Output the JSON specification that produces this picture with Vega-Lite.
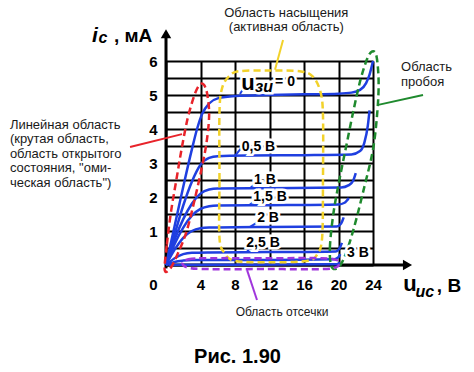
{
  "$schema": "https://vega.github.io/schema/vega-lite/v6.json",
  "width": 207,
  "height": 204,
  "autosize": {"type": "none"},
  "padding": {"left": 166, "top": 61, "right": 101, "bottom": 107},
  "background": "white",
  "config": {"view": {"stroke": null}, "font": "Liberation Sans"},
  "datasets": {
    "curves": [
      {"u": "0", "x": 0, "y": 0}, {"u": "0", "x": 1, "y": 1.15}, {"u": "0", "x": 2, "y": 2.3}, {"u": "0", "x": 3, "y": 3.4}, {"u": "0", "x": 3.6, "y": 4.0}, {"u": "0", "x": 4.2, "y": 4.45}, {"u": "0", "x": 5, "y": 4.75}, {"u": "0", "x": 6, "y": 4.9}, {"u": "0", "x": 8, "y": 4.97}, {"u": "0", "x": 12, "y": 5.0}, {"u": "0", "x": 16, "y": 5.02}, {"u": "0", "x": 20, "y": 5.04}, {"u": "0", "x": 21.5, "y": 5.07}, {"u": "0", "x": 22.5, "y": 5.15}, {"u": "0", "x": 23.2, "y": 5.35}, {"u": "0", "x": 23.6, "y": 5.6}, {"u": "0", "x": 24, "y": 6.0},
      {"u": "0.5", "x": 0, "y": 0}, {"u": "0.5", "x": 1, "y": 0.9}, {"u": "0.5", "x": 2, "y": 1.75}, {"u": "0.5", "x": 3, "y": 2.45}, {"u": "0.5", "x": 4, "y": 2.95}, {"u": "0.5", "x": 5, "y": 3.15}, {"u": "0.5", "x": 6, "y": 3.2}, {"u": "0.5", "x": 10, "y": 3.22}, {"u": "0.5", "x": 16, "y": 3.23}, {"u": "0.5", "x": 21.5, "y": 3.25}, {"u": "0.5", "x": 22.5, "y": 3.35}, {"u": "0.5", "x": 23.0, "y": 3.6}, {"u": "0.5", "x": 23.4, "y": 4.1}, {"u": "0.5", "x": 23.6, "y": 4.55},
      {"u": "1", "x": 0, "y": 0}, {"u": "1", "x": 1, "y": 0.75}, {"u": "1", "x": 2, "y": 1.35}, {"u": "1", "x": 3, "y": 1.8}, {"u": "1", "x": 4, "y": 2.1}, {"u": "1", "x": 5, "y": 2.22}, {"u": "1", "x": 6, "y": 2.25}, {"u": "1", "x": 12, "y": 2.26}, {"u": "1", "x": 20.3, "y": 2.28}, {"u": "1", "x": 21.2, "y": 2.35}, {"u": "1", "x": 21.7, "y": 2.48}, {"u": "1", "x": 22.0, "y": 2.7},
      {"u": "1.5", "x": 0, "y": 0}, {"u": "1.5", "x": 1, "y": 0.62}, {"u": "1.5", "x": 2, "y": 1.1}, {"u": "1.5", "x": 3, "y": 1.45}, {"u": "1.5", "x": 4, "y": 1.65}, {"u": "1.5", "x": 5, "y": 1.73}, {"u": "1.5", "x": 6, "y": 1.75}, {"u": "1.5", "x": 12, "y": 1.76}, {"u": "1.5", "x": 20, "y": 1.78}, {"u": "1.5", "x": 20.7, "y": 1.83}, {"u": "1.5", "x": 21.2, "y": 1.97},
      {"u": "2", "x": 0, "y": 0}, {"u": "2", "x": 1, "y": 0.45}, {"u": "2", "x": 2, "y": 0.8}, {"u": "2", "x": 3, "y": 1.0}, {"u": "2", "x": 4, "y": 1.08}, {"u": "2", "x": 5, "y": 1.1}, {"u": "2", "x": 12, "y": 1.12}, {"u": "2", "x": 19.8, "y": 1.13}, {"u": "2", "x": 20.3, "y": 1.22}, {"u": "2", "x": 20.6, "y": 1.4},
      {"u": "2.5", "x": 0, "y": 0}, {"u": "2.5", "x": 1, "y": 0.2}, {"u": "2.5", "x": 2, "y": 0.32}, {"u": "2.5", "x": 3, "y": 0.36}, {"u": "2.5", "x": 5, "y": 0.37}, {"u": "2.5", "x": 12, "y": 0.38}, {"u": "2.5", "x": 19.7, "y": 0.4}, {"u": "2.5", "x": 20.1, "y": 0.48}, {"u": "2.5", "x": 20.4, "y": 0.65},
      {"u": "3", "x": 0, "y": 0}, {"u": "3", "x": 1, "y": 0.09}, {"u": "3", "x": 2, "y": 0.13}, {"u": "3", "x": 3, "y": 0.15}, {"u": "3", "x": 12, "y": 0.15}, {"u": "3", "x": 19.5, "y": 0.17}, {"u": "3", "x": 20.0, "y": 0.23}, {"u": "3", "x": 20.2, "y": 0.32},
      {"u": "cut", "x": 0.3, "y": 0.0}, {"u": "cut", "x": 10, "y": 0.01}, {"u": "cut", "x": 19.8, "y": 0.02}, {"u": "cut", "x": 20.2, "y": 0.07}
    ],
    "regions": [
      {"c": "red", "o": 0, "x": -0.15, "y": -0.15}, {"c": "red", "o": 1, "x": 0.1, "y": 0.6}, {"c": "red", "o": 2, "x": 0.6, "y": 1.6}, {"c": "red", "o": 3, "x": 1.2, "y": 2.5}, {"c": "red", "o": 4, "x": 1.8, "y": 3.4}, {"c": "red", "o": 5, "x": 2.5, "y": 4.3}, {"c": "red", "o": 6, "x": 3.3, "y": 5.0}, {"c": "red", "o": 7, "x": 3.9, "y": 5.3}, {"c": "red", "o": 8, "x": 4.4, "y": 5.3}, {"c": "red", "o": 9, "x": 4.8, "y": 5.0}, {"c": "red", "o": 10, "x": 5.0, "y": 4.4}, {"c": "red", "o": 11, "x": 4.7, "y": 3.6}, {"c": "red", "o": 12, "x": 4.1, "y": 2.8}, {"c": "red", "o": 13, "x": 3.3, "y": 1.9}, {"c": "red", "o": 14, "x": 2.4, "y": 1.0}, {"c": "red", "o": 15, "x": 1.4, "y": 0.35}, {"c": "red", "o": 16, "x": 0.5, "y": -0.1},
      {"c": "yellow", "o": 0, "x": 6.2, "y": 0.8}, {"c": "yellow", "o": 1, "x": 6.2, "y": 2.5}, {"c": "yellow", "o": 2, "x": 6.2, "y": 4.5}, {"c": "yellow", "o": 3, "x": 6.5, "y": 5.2}, {"c": "yellow", "o": 4, "x": 7.3, "y": 5.55}, {"c": "yellow", "o": 5, "x": 8.5, "y": 5.7}, {"c": "yellow", "o": 6, "x": 12, "y": 5.72}, {"c": "yellow", "o": 7, "x": 15.5, "y": 5.7}, {"c": "yellow", "o": 8, "x": 17.0, "y": 5.55}, {"c": "yellow", "o": 9, "x": 17.9, "y": 5.1}, {"c": "yellow", "o": 10, "x": 18.2, "y": 4.4}, {"c": "yellow", "o": 11, "x": 18.2, "y": 2.5}, {"c": "yellow", "o": 12, "x": 18.1, "y": 0.8}, {"c": "yellow", "o": 13, "x": 17.5, "y": 0.3}, {"c": "yellow", "o": 14, "x": 16.3, "y": 0.12}, {"c": "yellow", "o": 15, "x": 12, "y": 0.08}, {"c": "yellow", "o": 16, "x": 8, "y": 0.12}, {"c": "yellow", "o": 17, "x": 6.8, "y": 0.35},
      {"c": "green", "o": 0, "x": 19.2, "y": -0.05}, {"c": "green", "o": 1, "x": 19.0, "y": 0.5}, {"c": "green", "o": 2, "x": 19.4, "y": 1.5}, {"c": "green", "o": 3, "x": 20.1, "y": 2.5}, {"c": "green", "o": 4, "x": 20.9, "y": 3.5}, {"c": "green", "o": 5, "x": 21.7, "y": 4.5}, {"c": "green", "o": 6, "x": 22.5, "y": 5.4}, {"c": "green", "o": 7, "x": 23.3, "y": 6.05}, {"c": "green", "o": 8, "x": 23.9, "y": 6.28}, {"c": "green", "o": 9, "x": 24.4, "y": 6.15}, {"c": "green", "o": 10, "x": 24.65, "y": 5.4}, {"c": "green", "o": 11, "x": 24.5, "y": 4.5}, {"c": "green", "o": 12, "x": 24.0, "y": 3.4}, {"c": "green", "o": 13, "x": 23.0, "y": 2.3}, {"c": "green", "o": 14, "x": 21.8, "y": 1.1}, {"c": "green", "o": 15, "x": 20.8, "y": 0.3}, {"c": "green", "o": 16, "x": 20.0, "y": -0.07},
      {"c": "purple", "o": 0, "x": 1.9, "y": 0.05}, {"c": "purple", "o": 1, "x": 2.6, "y": 0.17}, {"c": "purple", "o": 2, "x": 5, "y": 0.2}, {"c": "purple", "o": 3, "x": 12, "y": 0.2}, {"c": "purple", "o": 4, "x": 18, "y": 0.2}, {"c": "purple", "o": 5, "x": 19.7, "y": 0.15}, {"c": "purple", "o": 6, "x": 20.1, "y": 0.05}, {"c": "purple", "o": 7, "x": 19.7, "y": -0.07}, {"c": "purple", "o": 8, "x": 18, "y": -0.12}, {"c": "purple", "o": 9, "x": 12, "y": -0.12}, {"c": "purple", "o": 10, "x": 5, "y": -0.12}, {"c": "purple", "o": 11, "x": 2.6, "y": -0.08}
    ],
    "leaders": [
      {"c": "red", "id": "r", "x": -4.17, "y": 3.47}, {"c": "red", "id": "r", "x": 1.86, "y": 3.85},
      {"c": "yellow", "id": "y", "x": 13.57, "y": 6.62}, {"c": "yellow", "id": "y", "x": 12.64, "y": 5.74},
      {"c": "green", "id": "g", "x": 24.6, "y": 4.71}, {"c": "green", "id": "g", "x": 29.8, "y": 5.0},
      {"c": "purple", "id": "p", "x": 9.4, "y": -0.15}, {"c": "purple", "id": "p", "x": 10.55, "y": -1.03},
      {"c": "blue", "id": "b0", "x": 8.58, "y": 5.03}, {"c": "blue", "id": "b0", "x": 9.04, "y": 5.22},
      {"c": "blue", "id": "b05", "x": 8.0, "y": 3.21}, {"c": "blue", "id": "b05", "x": 8.78, "y": 3.46},
      {"c": "blue", "id": "b1", "x": 9.74, "y": 2.26}, {"c": "blue", "id": "b1", "x": 10.5, "y": 2.42},
      {"c": "blue", "id": "b15", "x": 9.66, "y": 1.76}, {"c": "blue", "id": "b15", "x": 10.3, "y": 1.88},
      {"c": "blue", "id": "b2", "x": 9.74, "y": 1.12}, {"c": "blue", "id": "b2", "x": 10.7, "y": 1.27},
      {"c": "blue", "id": "b25", "x": 9.36, "y": 0.38}, {"c": "blue", "id": "b25", "x": 9.94, "y": 0.56}
    ],
    "axes": [
      {"x": 0, "y": -0.1, "x2": 0, "y2": 6.75},
      {"x": -0.1, "y": 0, "x2": 27.9, "y2": 0}
    ],
    "arrows": [
      {"d": "up", "x": 0, "y": 6.8},
      {"d": "right", "x": 28.0, "y": 0}
    ],
    "texts": [
      {"s": "ann", "t": "Линейная область\n(крутая область,\nобласть открытого\nсостояния, \"оми-\nческая область\")", "x": -18.1, "y": 4.3},
      {"s": "ann", "t": "Область\nпробоя", "x": 27.25, "y": 6.0},
      {"s": "annc", "t": "Область насыщения\n(активная область)", "x": 13.95, "y": 7.6},
      {"s": "anns", "t": "Область отсечки", "x": 13.45, "y": -1.24},
      {"s": "cl", "t": "0,5 В", "x": 10.72, "y": 3.47},
      {"s": "cl", "t": "1 В", "x": 11.48, "y": 2.5},
      {"s": "cl", "t": "1,5 В", "x": 12.06, "y": 2.0},
      {"s": "cl", "t": "2 В", "x": 11.83, "y": 1.38},
      {"s": "cl", "t": "2,5 В", "x": 11.25, "y": 0.65},
      {"s": "cl", "t": "3 В", "x": 22.26, "y": 0.35},
      {"s": "cl", "t": "= 0", "x": 13.8, "y": 5.37},
      {"s": "u22", "t": "u", "x": 9.5, "y": 5.15},
      {"s": "u22", "t": "u", "x": 28.3, "y": -0.76},
      {"s": "bi16", "t": "зи", "x": 11.36, "y": 5.09},
      {"s": "bi16", "t": "ис", "x": 30.0, "y": -0.93},
      {"s": "bi16", "t": "c", "x": -7.3, "y": 6.53},
      {"s": "i20", "t": "i", "x": -8.23, "y": 6.56},
      {"s": "b19", "t": ", мА", "x": -6.03, "y": 6.56},
      {"s": "b19", "t": ", В", "x": 31.4, "y": -0.79},
      {"s": "fig", "t": "Рис. 1.90", "x": 8.29, "y": -2.88}
    ]
  },
  "encoding": {
    "x": {
      "field": "x", "type": "quantitative",
      "scale": {"domain": [0, 24], "nice": false, "zero": false},
      "axis": {
        "values": [0, 4, 8, 12, 16, 20, 24],
        "grid": true, "gridColor": "black", "gridWidth": 2, "gridOpacity": 1,
        "domain": false, "ticks": false, "tickSize": 0,
        "labelFont": "Liberation Sans", "labelFontWeight": "bold", "labelFontSize": 15, "labelColor": "black",
        "labelPadding": 12, "labelOverlap": false, "labelFlush": false, "title": null,
        "labelOffset": {"condition": {"test": "datum.value === 0", "value": -13}, "value": 0}
      }
    },
    "y": {
      "field": "y", "type": "quantitative",
      "scale": {"domain": [0, 6], "nice": false, "zero": false},
      "axis": {
        "values": [0, 0.5, 1, 1.5, 2, 2.5, 3, 3.5, 4, 4.5, 5, 5.5, 6],
        "grid": true, "gridColor": "black", "gridWidth": 2, "gridOpacity": 1,
        "domain": false, "ticks": false, "tickSize": 0,
        "labelFont": "Liberation Sans", "labelFontWeight": "bold", "labelFontSize": 15, "labelColor": "black",
        "labelPadding": 9, "labelOverlap": false, "title": null,
        "labelExpr": "datum.value >= 1 && datum.value % 1 === 0 ? '' + datum.value : ''"
      }
    }
  },
  "layer": [
    {
      "data": {"name": "axes"},
      "mark": {"type": "rule", "color": "black", "strokeWidth": 3},
      "encoding": {"x2": {"field": "x2"}, "y2": {"field": "y2"}}
    },
    {
      "data": {"name": "arrows"},
      "mark": {"type": "point", "filled": true, "color": "black", "opacity": 1, "size": 110},
      "encoding": {"shape": {"field": "d", "type": "nominal", "scale": {"domain": ["up", "right"], "range": ["triangle-up", "triangle-right"]}, "legend": null}}
    },
    {
      "data": {"name": "curves"},
      "mark": {"type": "line", "interpolate": "monotone", "color": "#1f3fe0", "strokeWidth": 2.5},
      "encoding": {"detail": {"field": "u", "type": "nominal"}}
    },
    {
      "data": {"name": "regions"},
      "mark": {"type": "line", "interpolate": "cardinal-closed", "strokeWidth": 2.5, "strokeDash": [7, 4]},
      "encoding": {
        "color": {"field": "c", "type": "nominal", "scale": {"domain": ["red", "yellow", "green", "purple", "blue"], "range": ["#e8232a", "#f2d22a", "#1f8a2e", "#a035dc", "#1f3fe0"]}, "legend": null},
        "order": {"field": "o", "type": "quantitative"}
      }
    },
    {
      "data": {"name": "leaders"},
      "mark": {"type": "line", "strokeWidth": 2},
      "encoding": {
        "color": {"field": "c", "type": "nominal", "scale": {"domain": ["red", "yellow", "green", "purple", "blue"], "range": ["#e8232a", "#f2d22a", "#1f8a2e", "#a035dc", "#1f3fe0"]}, "legend": null},
        "detail": {"field": "id", "type": "nominal"}
      }
    },
    {
      "data": {"name": "texts"},
      "transform": [{"filter": "datum.s === 'cl'"}],
      "mark": {"type": "text", "font": "Liberation Sans", "fontWeight": "bold", "fontSize": 14, "align": "center", "baseline": "middle", "stroke": "white", "strokeWidth": 5, "color": "white"},
      "encoding": {"text": {"field": "t"}}
    },
    {
      "data": {"name": "texts"},
      "transform": [{"filter": "datum.s === 'u22'"}],
      "mark": {"type": "text", "font": "Liberation Sans", "fontWeight": "bold", "fontSize": 22, "align": "center", "baseline": "alphabetic", "stroke": "white", "strokeWidth": 5, "color": "white"},
      "encoding": {"text": {"field": "t"}}
    },
    {
      "data": {"name": "texts"},
      "transform": [{"filter": "datum.s === 'bi16'"}],
      "mark": {"type": "text", "font": "Liberation Sans", "fontWeight": "bold", "fontStyle": "italic", "fontSize": 16, "align": "center", "baseline": "alphabetic", "stroke": "white", "strokeWidth": 5, "color": "white"},
      "encoding": {"text": {"field": "t"}}
    },
    {
      "data": {"name": "texts"},
      "transform": [{"filter": "datum.s === 'cl'"}],
      "mark": {"type": "text", "font": "Liberation Sans", "fontWeight": "bold", "fontSize": 14, "align": "center", "baseline": "middle", "color": "black"},
      "encoding": {"text": {"field": "t"}}
    },
    {
      "data": {"name": "texts"},
      "transform": [{"filter": "datum.s === 'u22'"}],
      "mark": {"type": "text", "font": "Liberation Sans", "fontWeight": "bold", "fontSize": 22, "align": "center", "baseline": "alphabetic", "color": "black"},
      "encoding": {"text": {"field": "t"}}
    },
    {
      "data": {"name": "texts"},
      "transform": [{"filter": "datum.s === 'bi16'"}],
      "mark": {"type": "text", "font": "Liberation Sans", "fontWeight": "bold", "fontStyle": "italic", "fontSize": 16, "align": "center", "baseline": "alphabetic", "color": "black"},
      "encoding": {"text": {"field": "t"}}
    },
    {
      "data": {"name": "texts"},
      "transform": [{"filter": "datum.s === 'i20'"}],
      "mark": {"type": "text", "font": "Liberation Sans", "fontWeight": "bold", "fontStyle": "italic", "fontSize": 21, "align": "center", "baseline": "alphabetic", "color": "black"},
      "encoding": {"text": {"field": "t"}}
    },
    {
      "data": {"name": "texts"},
      "transform": [{"filter": "datum.s === 'b19'"}],
      "mark": {"type": "text", "font": "Liberation Sans", "fontWeight": "bold", "fontSize": 19, "align": "left", "baseline": "alphabetic", "color": "black"},
      "encoding": {"text": {"field": "t"}}
    },
    {
      "data": {"name": "texts"},
      "transform": [{"filter": "datum.s === 'fig'"}],
      "mark": {"type": "text", "font": "Liberation Sans", "fontWeight": "bold", "fontSize": 20, "align": "center", "baseline": "alphabetic", "color": "black"},
      "encoding": {"text": {"field": "t"}}
    },
    {
      "data": {"name": "texts"},
      "transform": [{"filter": "datum.s === 'ann'"}],
      "mark": {"type": "text", "font": "Liberation Sans", "fontSize": 13, "align": "left", "baseline": "top", "lineBreak": "\n", "lineHeight": 14.5, "color": "#1a1a1a"},
      "encoding": {"text": {"field": "t"}}
    },
    {
      "data": {"name": "texts"},
      "transform": [{"filter": "datum.s === 'annc'"}],
      "mark": {"type": "text", "font": "Liberation Sans", "fontSize": 13, "align": "center", "baseline": "top", "lineBreak": "\n", "lineHeight": 14.5, "color": "#1a1a1a"},
      "encoding": {"text": {"field": "t"}}
    },
    {
      "data": {"name": "texts"},
      "transform": [{"filter": "datum.s === 'anns'"}],
      "mark": {"type": "text", "font": "Liberation Sans", "fontSize": 12, "align": "center", "baseline": "top", "color": "#1a1a1a"},
      "encoding": {"text": {"field": "t"}}
    }
  ]
}
